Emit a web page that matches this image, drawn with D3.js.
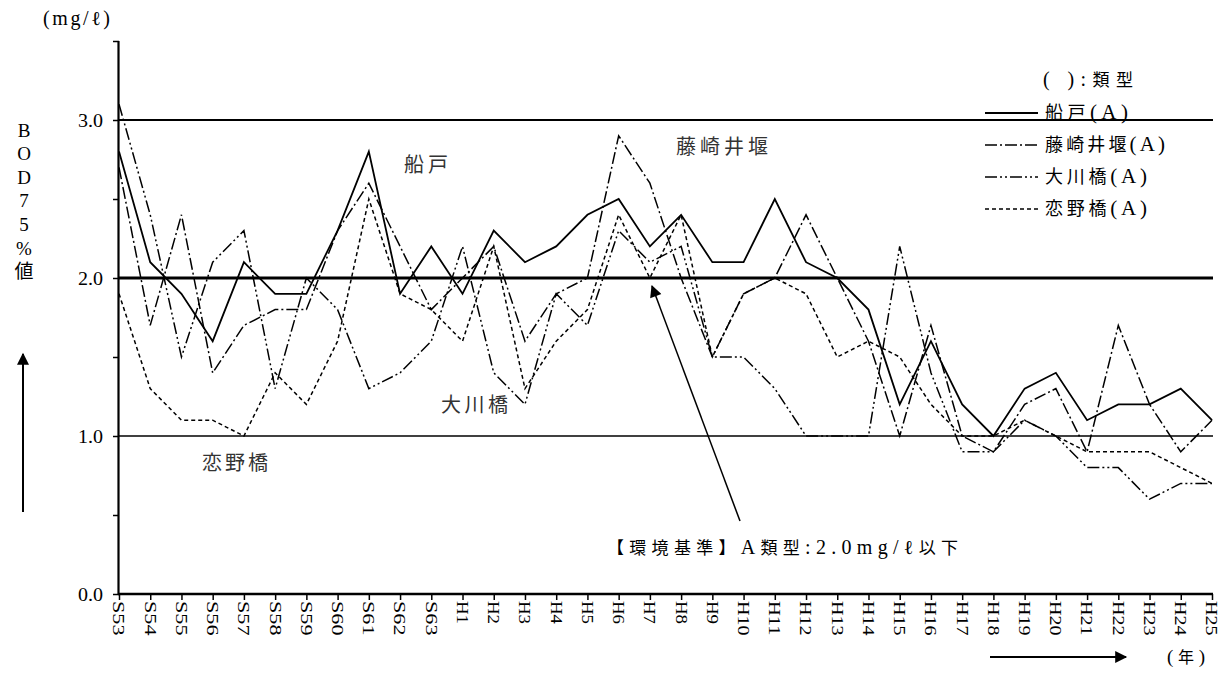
<!DOCTYPE html>
<html><head><meta charset="utf-8">
<script src="https://cdn.jsdelivr.net/npm/d3@7"></script>
<style>
body{margin:0;background:#fff;}
svg{display:block;font-family:"Liberation Serif","Noto Sans CJK JP",serif;}
.jp{font-family:"Noto Sans CJK JP","Liberation Serif",sans-serif;}
</style></head><body>
<svg id="c" width="1221" height="673"></svg>
<script>
const categories = ["S53","S54","S55","S56","S57","S58","S59","S60","S61","S62","S63",
 "H1","H2","H3","H4","H5","H6","H7","H8","H9","H10","H11","H12","H13","H14","H15",
 "H16","H17","H18","H19","H20","H21","H22","H23","H24","H25"];
const funado   = [2.8,2.1,1.9,1.6,2.1,1.9,1.9,2.3,2.8,1.9,2.2, 1.9,2.3,2.1,2.2,2.4,2.5,2.2,2.4,2.1,2.1,2.5,2.1,2.0,1.8,1.2,1.6,1.2,1.0,1.3,1.4,1.1,1.2,1.2,1.3,1.1];
const fujisaki = [2.7,1.7,2.4,1.4,1.7,1.8,1.8,2.3,2.6,2.2,1.8, 2.0,2.2,1.6,1.9,2.0,2.9,2.6,2.0,1.5,1.9,2.0,2.4,2.0,1.6,1.0,1.7,1.0,0.9,1.2,1.3,0.9,1.7,1.2,0.9,1.1];
const okawa    = [3.1,2.4,1.5,2.1,2.3,1.3,2.0,1.8,1.3,1.4,1.6, 2.2,1.4,1.2,1.9,1.7,2.3,2.1,2.2,1.5,1.5,1.3,1.0,1.0,1.0,2.2,1.4,0.9,0.9,1.1,1.0,0.8,0.8,0.6,0.7,0.7];
const koino    = [1.9,1.3,1.1,1.1,1.0,1.4,1.2,1.6,2.5,1.9,1.8, 1.6,2.2,1.3,1.6,1.8,2.4,2.0,2.4,1.5,1.9,2.0,1.9,1.5,1.6,1.5,1.2,1.0,1.0,1.1,1.0,0.9,0.9,0.9,0.8,0.7];
const stationNames = ["船戸","藤崎井堰","大川橋","恋野橋"];
const typeMark = "(A)";
const yTickLabels = ["0.0","1.0","2.0","3.0"];
const yLabelChars = ["B","O","D","7","5","%","値"];

const series = [
  {name:stationNames[0], values:funado,   dash:null,            w:1.8, len:83},
  {name:stationNames[1], values:fujisaki, dash:"12,3,2,3",      w:1.5, len:120},
  {name:stationNames[2], values:okawa,    dash:"12,3,2,3,2,3",  w:1.5, len:102},
  {name:stationNames[3], values:koino,    dash:"4,3",           w:1.5, len:102}
];

const svg = d3.select("#c");
const x = d3.scalePoint().domain(categories).range([119,1212]);
const y = d3.scaleLinear().domain([0,3.5]).range([594,41]);

// mixed text helper: parts = [[text, latin?], ...]
function mixed(sel, parts, cjkSize, latSize){
  parts.forEach(([t,lat])=>{
    sel.append("tspan").attr("font-size", lat?latSize:cjkSize)
      .attr("font-family", lat?"Liberation Serif":"Noto Sans CJK JP").text(t);
  });
  return sel;
}

const defs = svg.append("defs");
defs.append("marker").attr("id","ah2").attr("viewBox","0 0 10 10").attr("refX",9).attr("refY",5)
  .attr("markerWidth",18).attr("markerHeight",12).attr("markerUnits","userSpaceOnUse").attr("orient","auto")
  .append("path").attr("d","M0,0 L10,5 L0,10 Z").attr("fill","#000");

// reference lines
[[1.0,1.5],[2.0,3],[3.0,2]].forEach(([v,w])=>{
  svg.append("line").attr("x1",x("S53")).attr("x2",1213).attr("y1",y(v)).attr("y2",y(v))
    .attr("stroke","#000").attr("stroke-width",w);
});

// y axis
const yAxis = d3.axisLeft(y).tickValues(d3.range(0,3.51,0.5)).tickSize(6).tickFormat("");
const ga = svg.append("g").attr("transform","translate(119,0)").call(yAxis);
ga.select(".domain").attr("stroke-width",2.2).attr("d","M-0.5,41V594");
ga.selectAll(".tick line").attr("stroke-width",1.5);
svg.selectAll(".ytl").data(yTickLabels).join("text").attr("class","ytl")
  .attr("x",78).attr("y",d=>y(+d)).attr("dy","0.35em")
  .attr("font-size",19).attr("textLength",25).attr("lengthAdjust","spacingAndGlyphs").text(d=>d);

// x axis
const xAxis = d3.axisBottom(x).tickSize(6).tickFormat("");
const gx = svg.append("g").attr("transform","translate(0,594)").call(xAxis);
gx.select(".domain").attr("stroke-width",2.5).attr("d","M118,0H1213");
gx.selectAll(".tick line").attr("stroke-width",1.5);
svg.selectAll(".xtl").data(categories).join("text").attr("class","xtl")
  .attr("transform",d=>`translate(${x(d)},601) rotate(90)`)
  .attr("dy","0.35em").attr("font-size",16)
  .attr("textLength",d=>d.length*11.5).attr("lengthAdjust","spacingAndGlyphs").text(d=>d);

// series
const line = d3.line().x((d,i)=>x(categories[i])).y(d=>y(d));
series.forEach(s=>{
  svg.append("path").datum(s.values).attr("d",line).attr("fill","none")
    .attr("stroke","#000").attr("stroke-width",s.w)
    .attr("stroke-dasharray",s.dash).attr("stroke-linejoin","miter");
});

// axis titles
svg.append("text").attr("x",43).attr("y",18).attr("dy","0.35em").attr("font-size",20)
  .attr("textLength",67).attr("lengthAdjust","spacing").text("(mg/ℓ)");
svg.selectAll(".yl").data(yLabelChars).join("text").attr("class","yl")
  .attr("x",24).attr("y",(d,i)=>130+i*23.6).attr("dy","0.35em").attr("text-anchor","middle")
  .attr("font-size",19).text(d=>d);
svg.append("line").attr("x1",23).attr("y1",512).attr("x2",23).attr("y2",354)
  .attr("stroke","#000").attr("stroke-width",2).attr("marker-end","url(#ah2)");
svg.append("line").attr("x1",990).attr("y1",657).attr("x2",1126).attr("y2",657)
  .attr("stroke","#000").attr("stroke-width",2).attr("marker-end","url(#ah2)");
mixed(svg.append("text").attr("x",1167).attr("y",657).attr("dy","0.35em")
  .attr("textLength",38).attr("lengthAdjust","spacing"),
  [["(",true],["年",false],[")",true]],16,19);

// station labels
const lab = [[stationNames[0],404,165,44],[stationNames[1],676,147,92],[stationNames[2],441,405,67],[stationNames[3],202,463,66]];
lab.forEach(([t,lx,ly,lw])=>svg.append("text").attr("class","jp").attr("x",lx).attr("y",ly)
  .attr("dy","0.35em").attr("font-size",20).attr("fill","#333")
  .attr("textLength",lw).attr("lengthAdjust","spacing").text(t));

// legend
mixed(svg.append("text").attr("x",1043).attr("y",80).attr("dy","0.35em")
  .attr("textLength",90).attr("lengthAdjust","spacing"),
  [["(  )",true],[":",true],["類型",false]],17,20);
series.forEach((s,i)=>{
  const ly = 113 + i*32;
  svg.append("line").attr("x1",985).attr("x2",1038).attr("y1",ly).attr("y2",ly)
    .attr("stroke","#000").attr("stroke-width",s.w).attr("stroke-dasharray",s.dash);
  mixed(svg.append("text").attr("x",1045).attr("y",ly).attr("dy","0.35em")
    .attr("textLength",s.len).attr("lengthAdjust","spacing"),
    [[s.name,false],[typeMark,true]],18,21);
});

// annotation
svg.append("line").attr("x1",740).attr("y1",521).attr("x2",652).attr("y2",286)
  .attr("stroke","#000").attr("stroke-width",1.5).attr("marker-end","url(#ah2)");
mixed(svg.append("text").attr("x",607).attr("y",548).attr("dy","0.35em")
  .attr("textLength",351).attr("lengthAdjust","spacing"),
  [["【環境基準】",false],["A",true],["類型",false],[":2.0mg/ℓ",true],["以下",false]],17,20);
</script></body></html>
